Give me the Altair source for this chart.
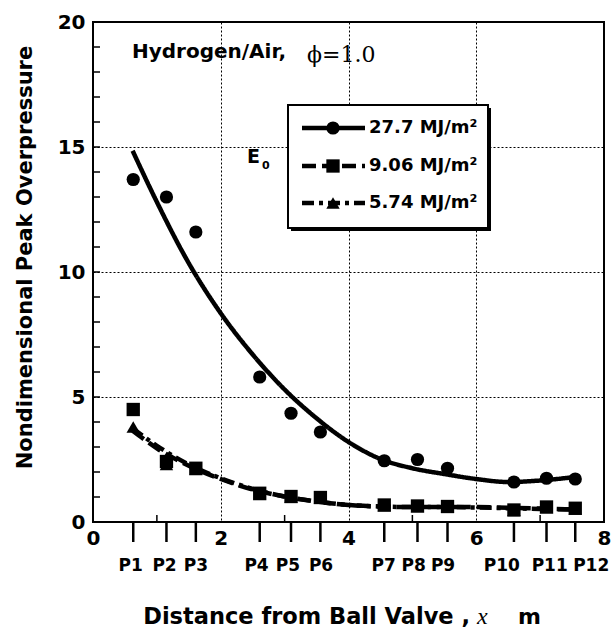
import altair as alt
import pandas as pd

# ---------------- data ----------------
sensor_names = ["P1", "P2", "P3", "P4", "P5", "P6", "P7", "P8", "P9", "P10", "P11", "P12"]
sensor_x = [0.63, 1.15, 1.61, 2.61, 3.10, 3.56, 4.56, 5.08, 5.55, 6.59, 7.10, 7.55]
# where each sensor name is printed below the axis (m)
sensor_label_x = [0.59, 1.12, 1.61, 2.56, 3.05, 3.57, 4.55, 5.02, 5.48, 6.40, 7.15, 7.80]

series_labels = ["27.7 MJ/m²", "9.06 MJ/m²", "5.74 MJ/m²"]

peak_277 = [13.7, 13.0, 11.6, 5.8, 4.35, 3.6, 2.45, 2.5, 2.15, 1.6, 1.75, 1.72]
peak_906 = [4.5, 2.42, 2.15, 1.15, 1.02, 0.98, 0.68, 0.64, 0.62, 0.48, 0.60, 0.55]
peak_574 = [3.8, 2.30, 2.10, 1.10, 1.00, 0.95, 0.65, 0.62, 0.60, 0.47, 0.58, 0.52]

fit_x = [0.62, 1.0, 1.5, 2.0, 2.5, 3.0, 3.5, 4.0, 4.5, 5.0, 5.5, 6.0, 6.5, 7.0, 7.55]
fit_277 = [14.85, 12.8, 10.35, 8.35, 6.7, 5.3, 4.15, 3.2, 2.52, 2.15, 1.92, 1.72, 1.6, 1.66, 1.8]
fit_906 = [3.65, 2.95, 2.25, 1.72, 1.3, 1.02, 0.82, 0.68, 0.62, 0.6, 0.6, 0.6, 0.57, 0.54, 0.5]
fit_574 = [3.75, 3.05, 2.3, 1.75, 1.32, 1.02, 0.82, 0.68, 0.62, 0.6, 0.6, 0.58, 0.55, 0.52, 0.5]

x_ticks = [0, 2, 4, 6, 8]
x_minor = [1, 3, 5, 7]
y_ticks = [0, 5, 10, 15, 20]
y_minor = list(range(1, 20))

# ---------------- tables ----------------
pts = pd.DataFrame({
    "series": [series_labels[2]] * 12 + [series_labels[1]] * 12 + [series_labels[0]] * 12,
    "x": sensor_x * 3,
    "y": peak_574 + peak_906 + peak_277,
})
fits = pd.DataFrame({
    "series": [series_labels[0]] * len(fit_x) + [series_labels[1]] * len(fit_x) + [series_labels[2]] * len(fit_x),
    "x": fit_x * 3,
    "y": fit_277 + fit_906 + fit_574,
})
sensors = pd.DataFrame({"name": sensor_names, "x": sensor_x, "lx": sensor_label_x})
xminor_df = pd.DataFrame({"x": x_minor})
yminor_df = pd.DataFrame({"y": y_minor})

FONT = "DejaVu Sans"
dash_scale = alt.Scale(domain=series_labels, range=[[1, 0], [14, 6], [12, 5, 4, 5]])
shape_scale = alt.Scale(domain=series_labels, range=["circle", "square", "triangle-up"])
size_scale = alt.Scale(domain=series_labels, range=[175, 180, 110])

xs = alt.Scale(domain=[0, 8], nice=False, zero=False)
ys = alt.Scale(domain=[0, 20], nice=False, zero=False)

# grid + main labels
grid_layer = alt.Chart(pts).mark_point(opacity=0).encode(
    x=alt.X("x:Q", scale=xs, axis=alt.Axis(
        values=x_ticks, orient="bottom", grid=True, gridDash=[2, 2], gridColor="black",
        gridWidth=1, ticks=False, tickSize=0, domain=False, labelFont=FONT,
        labelFontSize=20, labelFontWeight="bold", labelColor="black", labelPadding=6,
        labelFlush=False, labelOverlap=False, title=None)),
    y=alt.Y("y:Q", scale=ys, axis=alt.Axis(
        values=y_ticks, orient="left", grid=True, gridDash=[2, 2], gridColor="black",
        gridWidth=1, ticks=False, tickSize=0, domain=False, labelFont=FONT,
        labelFontSize=20, labelFontWeight="bold", labelColor="black", labelPadding=8,
        labelFlush=False, labelOverlap=False,
        title="Nondimensional Peak Overpressure", titleFont=FONT, titleFontSize=21,
        titleFontWeight="bold", titleColor="black", titleX=-68, titleY=235,
        titleAlign="center", titleBaseline="middle", titleAngle=270)),
)

# inward minor ticks
xminor_layer = alt.Chart(xminor_df).mark_rule(color="black", strokeWidth=1.5).encode(
    x=alt.X("x:Q", scale=xs, axis=None), y=alt.value(500), y2=alt.value(493))
yminor_layer = alt.Chart(yminor_df).mark_rule(color="black", strokeWidth=1.5).encode(
    y=alt.Y("y:Q", scale=ys, axis=None), x=alt.value(0), x2=alt.value(7))

# sensor ticks below the axis and their names
sensor_ticks = alt.Chart(sensors).mark_rule(color="black", strokeWidth=2.5).encode(
    x=alt.X("x:Q", scale=xs, axis=None), y=alt.value(500), y2=alt.value(520))
sensor_text = alt.Chart(sensors).mark_text(align="center", baseline="middle", font=FONT,
                                           fontSize=17, fontWeight="bold", color="black").encode(
    x=alt.X("lx:Q", scale=xs, axis=None), y=alt.value(544), text="name:N")

lines = alt.Chart(fits).mark_line(color="black", strokeWidth=4.5, interpolate="monotone",
                                  strokeCap="butt").encode(
    x=alt.X("x:Q", scale=xs, axis=None),
    y=alt.Y("y:Q", scale=ys, axis=None),
    strokeDash=alt.StrokeDash("series:N", scale=dash_scale, legend=None),
    detail="series:N",
)

points = alt.Chart(pts).mark_point(filled=True, color="black", opacity=1, strokeWidth=0).encode(
    x=alt.X("x:Q", scale=xs, axis=None),
    y=alt.Y("y:Q", scale=ys, axis=None),
    shape=alt.Shape("series:N", scale=shape_scale, legend=None),
    size=alt.Size("series:N", scale=size_scale, legend=None),
)

# ---------------- manual legend ----------------
one = alt.Data(values=[{"k": 1}])
leg = pd.DataFrame({"series": series_labels, "ly": [106, 144, 181]})

box_shadow = alt.Chart(one).mark_rect(color="black").encode(
    x=alt.value(198), x2=alt.value(398), y=alt.value(86), y2=alt.value(209))
box = alt.Chart(one).mark_rect(fill="white", stroke="black", strokeWidth=2).encode(
    x=alt.value(195), x2=alt.value(395), y=alt.value(83), y2=alt.value(206))
leg_lines = alt.Chart(leg).mark_rule(color="black", strokeWidth=4.5, strokeCap="butt").encode(
    x=alt.value(209), x2=alt.value(272),
    y=alt.Y("ly:Q", scale=None, axis=None),
    strokeDash=alt.StrokeDash("series:N", scale=dash_scale, legend=None),
)
leg_pts = alt.Chart(leg).mark_point(filled=True, color="black", opacity=1, strokeWidth=0).encode(
    x=alt.value(240),
    y=alt.Y("ly:Q", scale=None, axis=None),
    shape=alt.Shape("series:N", scale=shape_scale, legend=None),
    size=alt.Size("series:N", scale=size_scale, legend=None),
)
leg_text = alt.Chart(leg).mark_text(align="left", baseline="middle", font=FONT, fontSize=18,
                                    fontWeight="bold", color="black").encode(
    x=alt.value(276),
    y=alt.Y("ly:Q", scale=None, axis=None),
    text="series:N",
)

def label(txt, x, y, size, weight="bold", font=FONT, style="normal", align="left"):
    return alt.Chart(one).mark_text(align=align, baseline="alphabetic", font=font,
                                    fontSize=size, fontWeight=weight, fontStyle=style,
                                    color="black").encode(
        x=alt.value(x), y=alt.value(y), text=alt.value(txt))

annots = [
    label("Hydrogen/Air,", 39, 36, 20),
    label("ϕ=1.0", 214, 40, 22, weight="normal", font="DejaVu Serif"),
    label("E", 154, 141, 19),
    label("0", 169, 147, 11),
    label("Distance from Ball Valve ,", 377, 602, 22.5, align="right"),
    label("x", 384, 602, 24, weight="normal", font="Liberation Serif", style="italic"),
    label("m", 425, 602, 22),
]

chart = alt.layer(
    grid_layer, xminor_layer, yminor_layer, sensor_ticks, sensor_text, lines, points,
    box_shadow, box, leg_lines, leg_pts, leg_text, *annots
).resolve_axis(x="independent", y="independent").properties(
    width=511, height=500,
    autosize=alt.AutoSizeParams(type="none"),
    padding={"left": 93, "top": 22, "right": 10, "bottom": 119},
    background="white",
).configure_view(stroke="black", strokeWidth=2)

chart.save("out.html", embed_options={"renderer": "svg", "actions": False})
